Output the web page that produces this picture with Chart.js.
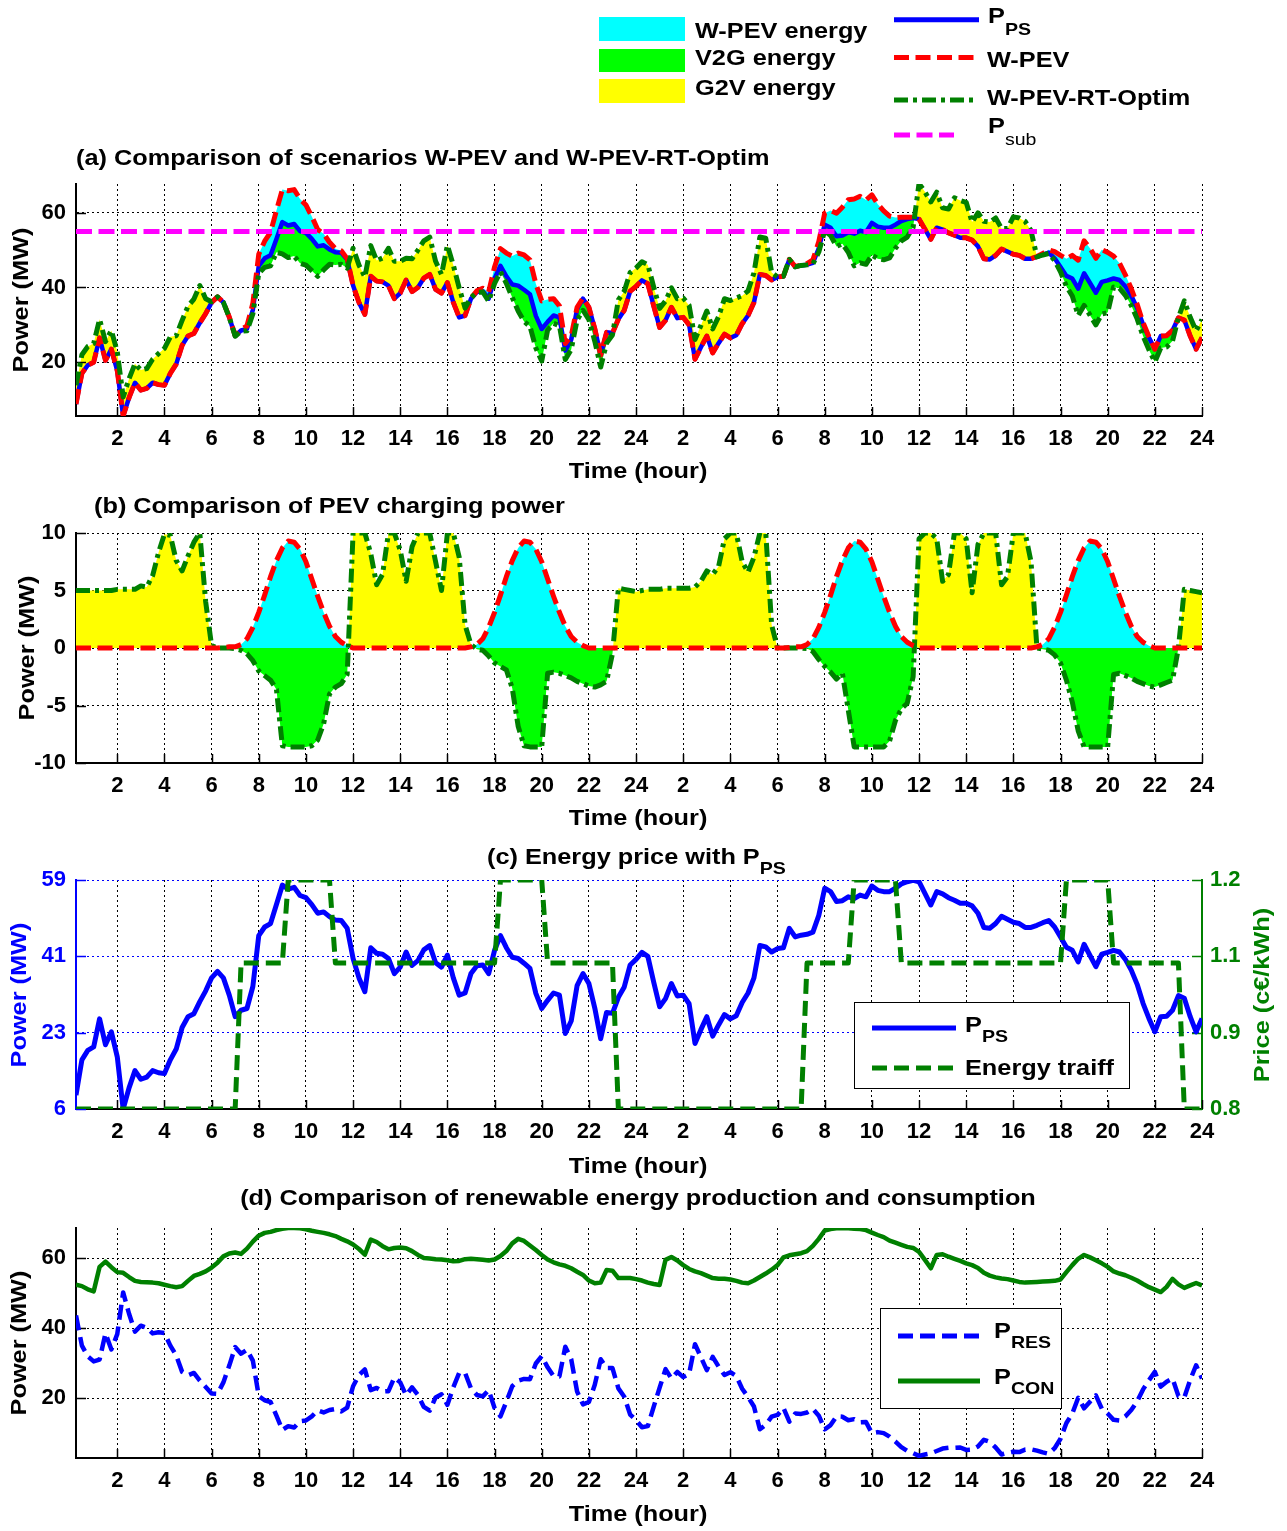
<!DOCTYPE html>
<html>
<head>
<meta charset="utf-8">
<title>W-PEV scenarios</title>
<script src="https://cdn.jsdelivr.net/npm/chart.js@4.4.1/dist/chart.umd.min.js"></script>
<style>
  body { margin: 0; background: #fff; }
  #page { position: relative; width: 1287px; height: 1531px; overflow: hidden; background: #fff;
          font-family: "Liberation Sans", Arial, Helvetica, sans-serif; }
  canvas { position: absolute; left: 0; }
  .box { position: absolute; background: #fff; border: 1.5px solid #000; box-sizing: border-box; }
  svg.overlay { position: absolute; left: 0; top: 0; pointer-events: none; }
  .txt { position: absolute; font-weight: bold; font-size: 22px; line-height: 22px; white-space: nowrap; color: #000;
         transform-origin: 0 50%; transform: scaleX(1.15); }
  .ctr { transform-origin: 50% 50%; transform: translateX(-50%) scaleX(1.15); }
  .rot { transform-origin: 50% 50%; transform: translate(-50%, -50%) rotate(-90deg) scaleX(1.15); }
  .sb { position: relative; font-size: 17px; }
</style>
</head>
<body>
<div id="page">
  <canvas id="panelA" width="1287" height="288" style="top:168px"></canvas>
  <canvas id="panelB" width="1287" height="286" style="top:517px"></canvas>
  <canvas id="panelC" width="1287" height="285" style="top:864px"></canvas>
  <canvas id="panelD" width="1287" height="286" style="top:1212px"></canvas>

  <!-- legend frames inside panels (c) and (d) -->
  <div class="box" style="left:854px;top:1002px;width:276px;height:87px"></div>
  <div class="box" style="left:880px;top:1308px;width:182px;height:101px"></div>

  <svg class="overlay" width="1287" height="1531">
    <rect x="599" y="17" width="86" height="24" fill="#00ffff"/>
    <rect x="599" y="49" width="86" height="23" fill="#00ff00"/>
    <rect x="599" y="79" width="86" height="24" fill="#ffff00"/>
    <line x1="894" y1="19.7" x2="979" y2="19.7" stroke="#0000ff" stroke-width="5"/>
    <line x1="894" y1="57.5" x2="975" y2="57.5" stroke="#ff0000" stroke-width="5" stroke-dasharray="15 6.5"/>
    <line x1="894" y1="100" x2="977" y2="100" stroke="#008000" stroke-width="5" stroke-dasharray="14 5 4 5"/>
    <line x1="894" y1="135" x2="954" y2="135" stroke="#ff00ff" stroke-width="5" stroke-dasharray="16 6.5"/>
    <line x1="872" y1="1028" x2="956" y2="1028" stroke="#0000ff" stroke-width="5"/>
    <line x1="872" y1="1068" x2="956" y2="1068" stroke="#008000" stroke-width="5" stroke-dasharray="15 7"/>
    <line x1="898" y1="1336" x2="980" y2="1336" stroke="#0000ff" stroke-width="5" stroke-dasharray="15 7"/>
    <line x1="898" y1="1381" x2="980" y2="1381" stroke="#008000" stroke-width="5"/>
  </svg>

  <!-- top legend -->
  <div class="txt" style="left:695px;top:20px">W-PEV energy</div>
  <div class="txt" style="left:695px;top:47px">V2G energy</div>
  <div class="txt" style="left:695px;top:77px">G2V energy</div>
  <div class="txt" style="left:988px;top:5px">P<span class="sb" style="top:12px">PS</span></div>
  <div class="txt" style="left:987px;top:49px">W-PEV</div>
  <div class="txt" style="left:987px;top:87px">W-PEV-RT-Optim</div>
  <div class="txt" style="left:988px;top:115px">P<span class="sb" style="top:12px;font-weight:normal">sub</span></div>

  <!-- panel titles -->
  <div class="txt" style="left:76px;top:147px">(a) Comparison of scenarios W-PEV and W-PEV-RT-Optim</div>
  <div class="txt" style="left:94px;top:495px">(b) Comparison of PEV charging power</div>
  <div class="txt" style="left:487px;top:846px">(c) Energy price with P<span class="sb" style="top:10px">PS</span></div>
  <div class="txt ctr" style="left:638px;top:1187px">(d) Comparison of renewable energy production and consumption</div>

  <!-- axis titles -->
  <div class="txt ctr" style="left:638px;top:460px">Time (hour)</div>
  <div class="txt ctr" style="left:638px;top:807px">Time (hour)</div>
  <div class="txt ctr" style="left:638px;top:1155px">Time (hour)</div>
  <div class="txt ctr" style="left:638px;top:1503px">Time (hour)</div>
  <div class="txt rot" style="left:21px;top:300px">Power (MW)</div>
  <div class="txt rot" style="left:27px;top:648px">Power (MW)</div>
  <div class="txt rot" style="left:19px;top:995px;color:#0000ff">Power (MW)</div>
  <div class="txt rot" style="left:1262px;top:995px;color:#008000">Price (c€/kWh)</div>
  <div class="txt rot" style="left:19px;top:1343px">Power (MW)</div>

  <!-- legends of panels (c) and (d) -->
  <div class="txt" style="left:965px;top:1014px">P<span class="sb" style="top:10px">PS</span></div>
  <div class="txt" style="left:965px;top:1057px">Energy traiff</div>
  <div class="txt" style="left:994px;top:1320px">P<span class="sb" style="top:10px">RES</span></div>
  <div class="txt" style="left:994px;top:1366px">P<span class="sb" style="top:10px">CON</span></div>
</div>

<script>
// 15-minute samples over two days (0.25 h ... 48 h)
const hours = Array.from({ length: 192 }, (_, i) => (i + 1) * 0.25);
const hourTicks = [2, 4, 6, 8, 10, 12, 14, 16, 18, 20, 22, 24, 26, 28, 30, 32, 34, 36, 38, 40, 42, 44, 46, 48];

// power system load P_PS (MW), one row per hour
const pps = [
  8.8, 17.0, 19.2, 20.0,   26.5, 20.5, 23.5, 17.7,   5.6, 10.5, 14.5, 12.5,   13.0, 14.5, 14.0, 13.8,
  17.0, 19.5, 24.5, 27.0,  27.7, 30.5, 33.0, 36.0,   37.5, 36.0, 32.0, 27.0,  28.5, 28.9, 34.0, 45.8,
  47.8, 48.6, 53.0, 57.5,  56.6, 57.0, 55.1, 54.6,   53.0, 51.0, 51.3, 50.2,  49.4, 49.3, 47.5, 40.5,
  36.0, 32.8, 43.0, 41.7,  41.5, 40.5, 37.0, 38.5,   42.0, 38.9, 40.0, 42.5,  43.5, 39.5, 38.5, 41.3,
  36.0, 32.0, 32.5, 37.0,  38.8, 39.0, 37.0, 42.4,   45.8, 43.0, 40.8, 40.5,  39.4, 38.2, 32.4, 28.9,
  30.8, 32.5, 32.0, 23.1,  26.0, 34.2, 37.0, 34.7,   29.0, 21.9, 28.0, 27.8,  31.5, 33.9, 39.0, 40.3,
  41.9, 41.0, 35.0, 29.3,  31.2, 34.7, 31.8, 32.0,   30.0, 20.8, 24.0, 27.0,  22.5, 25.1, 27.5, 26.5,
  27.2, 30.3, 32.5, 36.0,  43.5, 43.2, 42.0, 42.8,   43.0, 47.5, 45.5, 45.9,  46.1, 46.6, 50.5, 56.8,
  56.0, 53.7, 53.9, 54.8,  54.4, 55.2, 54.8, 57.3,   56.3, 56.0, 56.0, 56.8,  57.8, 58.3, 58.6, 58.3,
  55.6, 52.9, 56.0, 55.5,  54.6, 54.0, 53.3, 53.3,   52.7, 51.0, 47.7, 47.5,  48.6, 50.3, 49.6, 48.9,
  48.6, 47.7, 47.7, 48.2,  48.8, 49.3, 47.8, 45.5,   43.1, 42.4, 39.7, 43.8,  41.2, 38.6, 41.5, 41.9,
  42.4, 42.0, 40.3, 37.8,  34.5, 30.1, 26.6, 23.5,   27.0, 27.1, 28.5, 31.9,  31.3, 27.0, 23.5, 26.6
];

// PEV charging power (MW) in the W-PEV scenario
const wpevCharge = [
  0, 0, 0, 0,  0, 0, 0, 0,  0, 0, 0, 0,  0, 0, 0, 0,
  0, 0, 0, 0,  0, 0, 0, 0,  0, 0.05, 0.1, 0.1,  0.3, 0.8, 1.8, 3.1,
  4.6, 6.2, 7.6, 8.7,  9.3, 9.2, 8.6, 7.5,  6.0, 4.5, 3.1, 1.9,  1.0, 0.5, 0.2, 0,
  0, 0, 0, 0,  0, 0, 0, 0,  0, 0, 0, 0,  0, 0, 0, 0,
  0, 0, 0, 0.1,  0.3, 0.8, 1.8, 3.1,  4.6, 6.2, 7.6, 8.7,  9.3, 9.2, 8.6, 7.5,
  6.0, 4.5, 3.1, 1.9,  1.0, 0.5, 0.2, 0,  0, 0, 0, 0,  0, 0, 0, 0,
  0, 0, 0, 0,  0, 0, 0, 0,  0, 0, 0, 0,  0, 0, 0, 0,
  0, 0, 0, 0,  0, 0, 0, 0,  0, 0.05, 0.1, 0.1,  0.3, 0.8, 1.8, 3.1,
  4.6, 6.2, 7.6, 8.7,  9.3, 9.2, 8.6, 7.5,  6.0, 4.5, 3.1, 1.9,  1.0, 0.5, 0.2, 0,
  0, 0, 0, 0,  0, 0, 0, 0,  0, 0, 0, 0,  0, 0, 0, 0,
  0, 0, 0, 0.1,  0.3, 0.8, 1.8, 3.1,  4.6, 6.2, 7.6, 8.7,  9.3, 9.2, 8.6, 7.5,
  6.0, 4.5, 3.1, 1.9,  1.0, 0.5, 0.2, 0,  0, 0, 0, 0,  0, 0, 0, 0
];

// PEV charging power (MW) in the W-PEV-RT-Optim scenario
const optimCharge = [
  5.0, 5.0, 5.0, 5.0,   5.0, 5.0, 5.0, 5.1,   5.1, 5.1, 5.1, 5.4,   5.3, 6.3, 8.3, 9.9,
  9.8, 7.6, 6.7, 8.0,   9.2, 10.0, 4.0, 0.2,  0, 0, 0, -0.05,     -0.2, -0.5, -1.1, -2.0,
  -2.4, -2.8, -3.6, -8.5, -8.6, -8.6, -8.6, -8.6, -8.5, -8.0, -6.6, -4.0, -3.4, -3.1, -2.3, 10.0,
  10.0, 10.0, 8.2, 5.5,  6.4, 10.0, 10.0, 8.5,  5.8, 8.8, 10.0, 10.0,  10.0, 7.5, 5.0, 10.0,
  10.0, 7.9, 2.0, 0.3,   -0.1, -0.2, -0.7, -1.3, -1.6, -1.9, -3.5, -6.8, -8.5, -8.6, -8.6, -8.6,
  -2.2, -2.1, -2.2, -2.4, -2.6, -2.9, -3.1, -3.3, -3.4, -3.2, -2.9, -0.5, 5.2, 5.1, 5.0, 4.9,
  5.0, 5.1, 5.1, 5.1,   5.2, 5.2, 5.2, 5.2,   5.2, 5.3, 5.8, 6.7,   6.4, 7.1, 9.5, 10.0,
  10.0, 7.5, 6.6, 7.9,  10.0, 10.0, 2.0, 0,   0, 0, 0, 0,          -0.05, -0.3, -1.0, -1.6,
  -2.1, -2.7, -2.2, -5.4, -8.6, -8.6, -8.6, -8.6, -8.6, -8.6, -8.1, -6.3, -5.3, -4.8, -2.5, 9.5,
  10.0, 10.0, 9.5, 5.8,  6.4, 10.0, 10.0, 9.5,  4.8, 9.0, 10.0, 10.0,  10.0, 5.5, 6.2, 10.0,
  10.0, 10.0, 7.5, 0,   -0.1, -0.2, -0.6, -1.3, -2.8, -4.7, -7.2, -8.6, -8.6, -8.6, -8.6, -8.6,
  -2.3, -2.2, -2.4, -2.6, -2.9, -3.1, -3.3, -3.4, -3.2, -3.0, -2.8, 0,    5.1, 5.0, 4.9, 4.8
];

// substation limit P_sub (MW)
const substationLimit = 55;

// energy tariff (c€/kWh) for each hour of the day
const tariffByHour = [0.8, 0.8, 0.8, 0.8, 0.8, 0.8, 0.8, 1.055, 1.055, 1.2, 1.2, 1.055,
                      1.055, 1.055, 1.055, 1.055, 1.055, 1.055, 1.2, 1.2, 1.055, 1.055, 1.055, 0.8];

// consumption P_CON and renewable production P_RES (MW)
const pcon = [
  52.4, 52.0, 51.1, 50.5,  57.5, 59.0, 57.4, 56.0,  55.8, 54.6, 53.5, 53.2,  53.1, 53.0, 52.8, 52.4,
  52.0, 51.7, 52.0, 53.5,  54.9, 55.5, 56.2, 57.3,  58.7, 60.5, 61.3, 61.6,  61.2, 62.7, 64.7, 66.4,
  67.2, 67.5, 68.0, 68.4,  68.6, 68.6, 68.5, 68.2,  67.8, 67.5, 67.2, 66.8,  66.3, 65.5, 64.8, 63.9,
  62.6, 61.0, 65.3, 64.6,  63.4, 62.5, 62.9, 63.0,  62.8, 62.0, 60.9, 60.0,  59.9, 59.7, 59.6, 59.4,
  59.1, 59.2, 59.7, 59.8,  59.7, 59.5, 59.3, 59.6,  60.6, 62.0, 64.2, 65.5,  64.9, 63.6, 62.3, 60.9,
  59.6, 58.8, 58.2, 57.8,  57.1, 56.1, 55.2, 53.6,  52.8, 53.0, 56.6, 56.4,  54.3, 54.3, 54.3, 54.0,
  53.6, 53.0, 52.6, 52.3,  59.5, 60.3, 59.3, 58.0,  56.9, 56.2, 55.7, 55.0,  54.3, 54.1, 54.1, 53.9,
  53.5, 53.0, 52.8, 53.6,  54.6, 55.6, 56.7, 58.0,  60.2, 60.8, 61.1, 61.4,  62.0, 63.5, 65.5, 67.9,
  68.3, 68.5, 68.6, 68.5,  68.4, 68.3, 68.0, 67.3,  66.6, 66.0, 65.0, 64.4,  63.8, 63.2, 62.9, 61.8,
  59.5, 57.1, 60.9, 61.1,  60.4, 59.8, 59.2, 58.5,  58.0, 57.2, 55.8, 55.0,  54.5, 54.2, 54.0, 53.6,
  53.2, 53.0, 53.1, 53.2,  53.3, 53.4, 53.5, 53.9,  56.0, 58.0, 59.8, 60.9,  60.2, 59.4, 58.5, 57.5,
  56.2, 55.6, 55.1, 54.4,  53.6, 52.6, 51.7, 51.0,  50.3, 51.8, 54.1, 52.5,  51.5, 52.2, 52.9, 52.2
];
const pres = [
  43.6, 35.0, 31.9, 30.5,  31.0, 38.5, 33.9, 38.3,  50.2, 44.1, 39.0, 40.7,  40.1, 38.5, 38.8, 38.6,
  35.0, 32.2, 27.5, 26.5,  27.2, 25.0, 23.2, 21.3,  21.2, 24.5, 29.3, 34.6,  32.7, 33.8, 30.7, 20.6,
  19.4, 18.9, 15.0, 10.9,  12.0, 11.6, 13.4, 13.6,  14.8, 16.5, 15.9, 16.6,  16.9, 16.2, 17.3, 23.4,
  26.6, 28.2, 22.3, 22.9,  21.9, 22.0, 25.9, 24.5,  20.8, 23.1, 20.9, 17.5,  16.4, 20.2, 21.1, 18.1,
  23.1, 27.2, 27.2, 22.8,  20.9, 20.5, 22.3, 17.2,  14.8, 19.0, 23.4, 25.0,  25.5, 25.4, 29.9, 32.0,
  28.8, 26.3, 26.2, 34.7,  31.1, 21.9, 18.2, 18.9,  23.8, 31.1, 28.6, 28.6,  22.8, 20.4, 15.3, 13.7,
  11.7, 12.0, 17.6, 23.0,  28.3, 25.6, 27.5, 26.0,  26.9, 35.4, 31.7, 28.0,  31.8, 29.0, 26.6, 27.4,
  26.3, 22.7, 20.3, 17.6,  11.1, 12.4, 14.7, 15.2,  17.2, 13.3, 15.6, 15.5,  15.9, 16.9, 15.0, 11.1,
  12.3, 14.8, 14.7, 13.7,  14.0, 13.1, 13.2, 10.0,  10.3, 10.0, 9.0, 7.6,    6.0, 4.9, 4.3, 3.5,
  3.9, 4.2, 4.9, 5.6,      5.8, 5.8, 5.9, 5.2,      5.3, 6.2, 8.1, 7.5,      5.9, 3.9, 4.4, 4.7,
  4.6, 5.3, 5.4, 5.0,      4.5, 4.1, 5.7, 8.4,      12.9, 15.6, 20.1, 17.1,  19.0, 20.8, 17.0, 15.6,
  13.8, 13.6, 14.8, 16.6,  19.1, 22.5, 25.1, 27.5,  23.3, 24.7, 25.6, 20.6,  20.2, 25.2, 29.4, 25.6
];

// y tick positions of panel (c): four evenly spaced levels on each side
const ppsTicks = [5.6, 23.3, 41.0, 58.7];
const ppsTickLabels = ['6', '23', '41', '59'];
const priceTicks = [0.8, 0.9333, 1.0667, 1.2];
const priceTickLabels = ['0.8', '0.9', '1.1', '1.2'];

const BLUE = '#0000ff', RED = '#ff0000', DKGREEN = '#008000', MAGENTA = '#ff00ff';
const CYAN = '#00ffff', LIME = '#00ff00', YELLOW = '#ffff00', NONE = 'rgba(0,0,0,0)';
const DASH = [15, 6.5], DASHDOT = [14, 5, 4, 5];

Chart.defaults.font.family = '"Liberation Sans", Arial, Helvetica, sans-serif';
Chart.defaults.font.weight = 'bold';
Chart.defaults.font.size = 22;
Chart.defaults.color = '#000';

const pts = vals => hours.map((h, i) => ({ x: h, y: vals[i] }));
const wpevLoad = pps.map((p, i) => p + wpevCharge[i]);
const optimLoad = pps.map((p, i) => p + optimCharge[i]);
const tariff = hours.map(h => tariffByHour[(Math.ceil(h) - 1) % 24]);

// MATLAB style: short tick marks pointing into the plot
const inwardTicks = {
  id: 'inwardTicks',
  beforeDatasetsDraw(chart) {
    const ctx = chart.ctx, a = chart.chartArea;
    ctx.save();
    ctx.lineWidth = 1.5;
    Object.values(chart.scales).forEach(s => {
      ctx.strokeStyle = s.options.border.color;
      s.ticks.forEach(t => {
        const p = Math.round(s.getPixelForValue(t.value)) + 0.5;
        ctx.beginPath();
        if (s.axis === 'x') { ctx.moveTo(p, a.bottom); ctx.lineTo(p, a.bottom - 9); }
        else if (s.position === 'left') { ctx.moveTo(a.left, p); ctx.lineTo(a.left + 10, p); }
        else { ctx.moveTo(a.right, p); ctx.lineTo(a.right - 10, p); }
        ctx.stroke();
      });
    });
    ctx.restore();
  }
};

function xAxis() {
  return {
    type: 'linear', min: 0.25, max: 48,
    afterBuildTicks: s => { s.ticks = hourTicks.map(v => ({ value: v })); },
    afterFit: s => { s.height = 40; s.paddingLeft = 0; s.paddingRight = 0; },
    ticks: { callback: v => (v > 24 ? v - 24 : v), padding: 10, maxRotation: 0, autoSkip: false },
    grid: { color: '#000', lineWidth: 1, drawTicks: false },
    border: { display: true, color: '#000', width: 2, dash: [2, 3] }
  };
}

function yAxis(min, max, ticks, opts = {}) {
  const side = opts.position || 'left';
  const color = opts.color || '#000';
  return {
    type: 'linear', position: side, min, max,
    afterBuildTicks: s => { s.ticks = ticks.map(v => ({ value: v })); },
    afterFit: s => { s.width = side === 'left' ? 76 : 85; s.paddingTop = 0; s.paddingBottom = 0; },
    ticks: { callback: opts.labels ? (v, i) => opts.labels[i] : v => v, padding: side === 'left' ? 10 : 8, color },
    grid: { display: opts.grid !== false, color, lineWidth: 1, drawTicks: false },
    border: { display: true, color, width: 2, dash: [2, 3] }
  };
}

function line(data, color, width, dash, extra = {}) {
  return Object.assign({
    data, borderColor: color, borderWidth: width, borderDash: dash || [],
    pointRadius: 0, tension: 0, fill: false, borderJoinStyle: 'round'
  }, extra);
}

function makeChart(id, datasets, scales, rightPad) {
  return new Chart(document.getElementById(id), {
    type: 'line',
    data: { datasets },
    options: {
      responsive: false, animation: false, events: [],
      layout: { padding: { top: 16, right: rightPad, left: 0, bottom: 0 } },
      scales,
      plugins: { legend: { display: false }, tooltip: { enabled: false }, filler: { drawTime: 'beforeDatasetsDraw' } }
    },
    plugins: [inwardTicks]
  });
}

// (a) total load with and without optimised PEV scheduling
makeChart('panelA', [
  line(pts(pps), BLUE, 4.5, null, { order: 4 }),
  line(pts(wpevLoad), RED, 5, DASH, { order: 3, fill: { target: 0, above: CYAN, below: NONE } }),
  line(pts(optimLoad), DKGREEN, 5, DASHDOT, { order: 2, fill: { target: 0, above: YELLOW, below: LIME } }),
  line([{ x: 0.25, y: substationLimit }, { x: 48, y: substationLimit }], MAGENTA, 5, [16, 6.5], { order: 1 })
], { x: xAxis(), y: yAxis(5.6, 67.7, [20, 40, 60]) }, 85);

// (b) PEV charging power, positive = G2V, negative = V2G
makeChart('panelB', [
  line(pts(wpevCharge), RED, 5, DASH, { order: 1, fill: { target: 'origin', above: CYAN, below: NONE } }),
  line(pts(optimCharge), DKGREEN, 5, DASHDOT, { order: 2, fill: { target: 'origin', above: YELLOW, below: LIME } })
], { x: xAxis(), y: yAxis(-10, 10, [-10, -5, 0, 5, 10]) }, 85);

// (c) tariff on the right axis, P_PS on the left axis
makeChart('panelC', [
  line(pts(tariff), DKGREEN, 5, [15, 7], { order: 1, yAxisID: 'y2' }),
  line(pts(pps), BLUE, 5, null, { order: 2, yAxisID: 'y' })
], {
  x: xAxis(),
  y: yAxis(5.6, 58.7, ppsTicks, { labels: ppsTickLabels, color: BLUE }),
  y2: yAxis(0.8, 1.2, priceTicks, { labels: priceTickLabels, color: DKGREEN, position: 'right', grid: false })
}, 0);

// (d) renewable production and consumption
makeChart('panelD', [
  line(pts(pres), BLUE, 4.5, [15, 7], { order: 1 }),
  line(pts(pcon), DKGREEN, 4.5, null, { order: 2 })
], { x: xAxis(), y: yAxis(2.9, 68.6, [20, 40, 60]) }, 85);
</script>
</body>
</html>
